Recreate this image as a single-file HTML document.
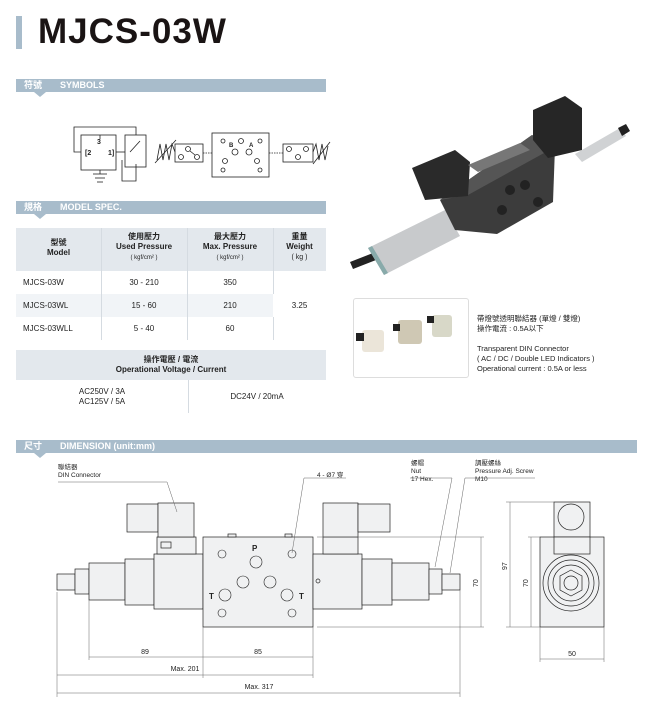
<!DOCTYPE html>
<html><head><meta charset="utf-8"><style>
body{margin:0;width:645px;height:706px;background:#fff;position:relative;overflow:hidden;font-family:"Liberation Sans","Noto Sans CJK TC",sans-serif;color:#222}
.a{position:absolute}
.bar{position:absolute;left:16px;height:13px;background:#a8bccb;color:#fff;font-weight:bold;font-size:9px;line-height:13px}
.bar span{margin-left:8px}
.bar b{margin-left:18px}
.tri{position:absolute;left:34px;width:0;height:0;border-left:6px solid transparent;border-right:6px solid transparent;border-top:5px solid #a8bccb}
.c{position:absolute;text-align:center;font-size:8px;line-height:10px}
</style></head><body>
<div class="a" style="left:16px;top:16px;width:6px;height:33px;background:#a8bccb"></div>
<div class="a" style="left:38px;top:12px;font-size:35px;font-weight:bold;letter-spacing:1px;color:#1a1414;line-height:40px">MJCS-03W</div>

<div class="bar" style="top:79px;width:310px"><span>符號</span><b>SYMBOLS</b></div><div class="tri" style="top:92px"></div>
<div class="bar" style="top:201px;width:310px"><span>規格</span><b>MODEL SPEC.</b></div><div class="tri" style="top:214px"></div>
<div class="bar" style="top:440px;width:621px"><span>尺寸</span><b>DIMENSION (unit:mm)</b></div><div class="tri" style="top:453px"></div>

<!-- table -->
<div class="a" style="left:16px;top:228px;width:310px;height:43px;background:#e3e8ed"></div>
<div class="a" style="left:16px;top:294px;width:310px;height:23px;background:#f1f4f7"></div>
<div class="a" style="left:101px;top:228px;width:1px;height:112px;background:#d5dbe1"></div>
<div class="a" style="left:187px;top:228px;width:1px;height:112px;background:#d5dbe1"></div>
<div class="a" style="left:273px;top:228px;width:1px;height:112px;background:#d5dbe1"></div>
<div class="a" style="left:273px;top:294px;width:53px;height:23px;background:#fff"></div>
<div class="c" style="left:16px;top:238px;width:85px"><b>型號<br>Model</b></div>
<div class="c" style="left:101px;top:232px;width:86px"><b>使用壓力<br>Used Pressure</b><br><span style="font-size:6px">( kgf/cm² )</span></div>
<div class="c" style="left:187px;top:232px;width:86px"><b>最大壓力<br>Max. Pressure</b><br><span style="font-size:6px">( kgf/cm² )</span></div>
<div class="c" style="left:273px;top:232px;width:53px"><b>重量<br>Weight</b><br><span style="font-size:7px">( kg )</span></div>
<div class="a" style="left:23px;top:278px;font-size:8px">MJCS-03W</div>
<div class="a" style="left:23px;top:301px;font-size:8px">MJCS-03WL</div>
<div class="a" style="left:23px;top:324px;font-size:8px">MJCS-03WLL</div>
<div class="c" style="left:101px;top:278px;width:86px">30 - 210</div>
<div class="c" style="left:101px;top:301px;width:86px">15 - 60</div>
<div class="c" style="left:101px;top:324px;width:86px">5 - 40</div>
<div class="c" style="left:187px;top:278px;width:86px">350</div>
<div class="c" style="left:187px;top:301px;width:86px">210</div>
<div class="c" style="left:187px;top:324px;width:86px">60</div>
<div class="c" style="left:273px;top:301px;width:53px">3.25</div>
<div class="a" style="left:16px;top:350px;width:310px;height:30px;background:#e3e8ed"></div>
<div class="c" style="left:16px;top:355px;width:310px"><b>操作電壓 / 電流<br>Operational Voltage / Current</b></div>
<div class="a" style="left:188px;top:380px;width:1px;height:33px;background:#d5dbe1"></div>
<div class="c" style="left:16px;top:387px;width:172px">AC250V / 3A<br>AC125V / 5A</div>
<div class="c" style="left:188px;top:392px;width:138px">DC24V / 20mA</div>

<!-- photo caption -->
<div class="a" style="left:353px;top:298px;width:114px;height:78px;border:1px solid #ddd;border-radius:3px"></div>
<div class="a" style="left:477px;top:314px;font-size:7.5px;line-height:10px">帶燈號透明聯結器 (單燈 / 雙燈)<br>操作電流 : 0.5A以下<br><br>Transparent DIN Connector<br>( AC / DC / Double LED Indicators )<br>Operational current : 0.5A or less</div>

<!-- dimension labels -->
<div class="a" style="left:58px;top:464px;font-size:6.5px;line-height:8px">聯結器<br>DIN Connector</div>
<div class="a" style="left:317px;top:469px;font-size:6.5px">4 - Ø7 穿</div>
<div class="a" style="left:411px;top:460px;font-size:6.5px;line-height:8px">螺帽<br>Nut<br>17 Hex.</div>
<div class="a" style="left:475px;top:460px;font-size:6.5px;line-height:8px">調壓螺絲<br>Pressure Adj. Screw<br>M10</div>
<div class="c" style="left:130px;top:648px;width:30px;font-size:7px">89</div>
<div class="c" style="left:243px;top:648px;width:30px;font-size:7px">85</div>
<div class="c" style="left:160px;top:665px;width:50px;font-size:7px">Max. 201</div>
<div class="c" style="left:234px;top:683px;width:50px;font-size:7px">Max. 317</div>
<div class="c" style="left:557px;top:650px;width:30px;font-size:7px">50</div>

<svg class="a" style="left:0;top:0" width="645" height="706" viewBox="0 0 645 706" font-family="Liberation Sans,sans-serif">
<!-- symbols -->
<g fill="none" stroke="#222" stroke-width="0.8">
<rect x="81" y="135" width="35" height="35"/>
<polyline points="81,152 74,152 74,127 136,127 136,135"/>
<rect x="125" y="135" width="21" height="32"/>
<line x1="116" y1="152" x2="125" y2="152"/>
<polyline points="122,160 122,181 136,181 136,164"/>
<line x1="130" y1="152" x2="140" y2="141"/>
<line x1="100" y1="135" x2="100" y2="139"/>
<line x1="100" y1="170" x2="100" y2="174"/><line x1="93" y1="174" x2="107" y2="174"/><line x1="95" y1="178" x2="105" y2="178"/><line x1="97" y1="182" x2="103" y2="182"/>
<polyline points="157,160 160,144 163,160 166,144 169,160 172,144 175,152"/>
<line x1="155" y1="163" x2="176" y2="140"/>
<rect x="175" y="144" width="28" height="18"/>
<circle cx="181" cy="157" r="2.5"/><circle cx="188" cy="149" r="2.5"/><circle cx="197" cy="157" r="2.5"/>
<line x1="190" y1="151" x2="195" y2="155"/>
<rect x="212" y="133" width="57" height="44"/>
<circle cx="223" cy="141" r="2"/><circle cx="241" cy="141" r="2.5"/><circle cx="260" cy="141" r="2"/>
<circle cx="235" cy="152" r="3"/><circle cx="249" cy="152" r="3"/>
<circle cx="225" cy="161" r="2.5"/><circle cx="257" cy="161" r="2.5"/>
<circle cx="223" cy="170" r="2"/><circle cx="260" cy="170" r="2"/>
<rect x="283" y="144" width="30" height="18"/>
<circle cx="289" cy="149" r="2.5"/><circle cx="298" cy="157" r="2.5"/><circle cx="306" cy="149" r="2.5"/>
<polyline points="313,152 316,144 319,160 322,144 325,160 328,146"/>
<line x1="313" y1="164" x2="330" y2="142"/>
</g>
<g stroke="#222" stroke-width="0.7" stroke-dasharray="1.5,1"><line x1="203" y1="153" x2="212" y2="153"/><line x1="269" y1="153" x2="283" y2="153"/></g>
<g font-size="7" fill="#222" font-weight="bold"><text x="97" y="144">3</text><text x="85" y="155">[2</text><text x="108" y="155">1]</text><text x="229" y="147" font-size="6">B</text><text x="249" y="147" font-size="6">A</text></g>

<!-- photo -->
<g>
<polygon points="350,262 373,253 376,260 353,269" fill="#222"/>
<polygon points="368,248 445,210 460,236 384,275" fill="#c8cacc"/>
<polygon points="368,248 384,275 388,273 372,246" fill="#8aa"/>
<polygon points="575,154 620,128 626,136 582,162" fill="#d0d2d4"/>
<polygon points="618,128 626,124 630,131 622,136" fill="#222"/>
<polygon points="440,200 532,135 555,147 553,202 497,234 455,230" fill="#3c3c3c"/>
<polygon points="440,200 532,135 555,147 468,195" fill="#555"/>
<polygon points="412,168 455,150 470,162 468,196 425,200" fill="#2a2a2a"/>
<polygon points="533,110 565,96 582,108 582,150 548,158 533,140" fill="#262626"/>
<circle cx="510" cy="190" r="5" fill="#222"/><circle cx="525" cy="185" r="5" fill="#222"/><circle cx="538" cy="202" r="5" fill="#222"/><circle cx="502" cy="210" r="5" fill="#222"/>
<polygon points="468,165 520,143 530,150 478,172" fill="#777"/>
</g>
<g fill="#e6dfd0"><rect x="362" y="330" width="22" height="22" rx="3" opacity=".8"/><rect x="398" y="320" width="24" height="24" rx="3" fill="#cfc8b4"/><rect x="432" y="315" width="20" height="22" rx="3" fill="#d8d8c8"/></g>
<g fill="#222"><rect x="356" y="333" width="8" height="8"/><rect x="393" y="324" width="7" height="7"/><rect x="427" y="316" width="7" height="7"/></g>

<!-- dimension drawing -->
<g fill="#f0f1f2" stroke="#222" stroke-width="0.7">
<rect x="57" y="574" width="18" height="16"/>
<rect x="75" y="569" width="14" height="25"/>
<rect x="89" y="563" width="36" height="37"/>
<rect x="125" y="559" width="29" height="46"/>
<rect x="154" y="554" width="49" height="55"/>
<rect x="157" y="537" width="39" height="17"/>
<rect x="127" y="504" width="31" height="28"/>
<rect x="158" y="503" width="36" height="34"/>
<rect x="203" y="537" width="110" height="90"/>
<rect x="228" y="534" width="8" height="3"/><rect x="285" y="534" width="7" height="3"/>
<rect x="313" y="554" width="49" height="55"/>
<rect x="323" y="537" width="35" height="17"/>
<rect x="323" y="503" width="35" height="34"/>
<rect x="358" y="504" width="32" height="28"/>
<rect x="362" y="559" width="30" height="46"/>
<rect x="392" y="563" width="37" height="37"/>
<rect x="429" y="569" width="13" height="25"/>
<rect x="442" y="574" width="18" height="16"/>
<rect x="540" y="537" width="64" height="90"/>
<rect x="554" y="502" width="36" height="35"/>
<rect x="554" y="537" width="36" height="17"/>
<circle cx="571" cy="517" r="13"/>
<circle cx="571" cy="583" r="28"/><circle cx="571" cy="583" r="23"/><circle cx="571" cy="583" r="18"/>
<polygon points="571,570 582,576 582,590 571,596 560,590 560,576"/>
<circle cx="571" cy="583" r="7"/>
<rect x="161" y="542" width="10" height="6"/>
<circle cx="318" cy="581" r="2"/>
</g>
<g fill="none" stroke="#222" stroke-width="0.6">
<circle cx="222" cy="554" r="4"/><circle cx="292" cy="554" r="4"/><circle cx="256" cy="562" r="6"/>
<circle cx="243" cy="582" r="6"/><circle cx="270" cy="582" r="6"/>
<circle cx="225" cy="595" r="6"/><circle cx="287" cy="595" r="6"/>
<circle cx="222" cy="613" r="4"/><circle cx="292" cy="613" r="4"/>
</g>
<g font-size="8" font-weight="bold" fill="#222"><text x="252" y="551">P</text><text x="209" y="599">T</text><text x="299" y="599">T</text></g>
<g stroke="#666" stroke-width="0.5" fill="none">
<line x1="317" y1="537" x2="484" y2="537"/><line x1="317" y1="627" x2="484" y2="627"/>
<line x1="481" y1="537" x2="481" y2="627"/>
<line x1="57" y1="592" x2="57" y2="697"/><line x1="89" y1="600" x2="89" y2="660"/>
<line x1="203" y1="627" x2="203" y2="678"/><line x1="313" y1="627" x2="313" y2="678"/>
<line x1="460" y1="590" x2="460" y2="697"/>
<line x1="89" y1="657" x2="313" y2="657"/><line x1="57" y1="675" x2="313" y2="675"/><line x1="57" y1="693" x2="460" y2="693"/>
<line x1="506" y1="502" x2="554" y2="502"/><line x1="506" y1="627" x2="540" y2="627"/>
<line x1="510" y1="502" x2="510" y2="627"/><line x1="531" y1="537" x2="531" y2="627"/><line x1="528" y1="537" x2="540" y2="537"/>
<line x1="540" y1="627" x2="540" y2="662"/><line x1="604" y1="627" x2="604" y2="662"/><line x1="540" y1="659" x2="604" y2="659"/>
<polyline points="58,482 167,482 177,512"/>
<polyline points="346,478 304,478 292,553"/>
<polyline points="410,478 452,478 435,567"/>
<polyline points="535,478 465,478 450,573"/>
</g>
<g font-size="7" fill="#222"><text transform="translate(478,587) rotate(-90)">70</text><text transform="translate(507,570) rotate(-90)">97</text><text transform="translate(528,587) rotate(-90)">70</text></g>
</svg>
</body></html>
